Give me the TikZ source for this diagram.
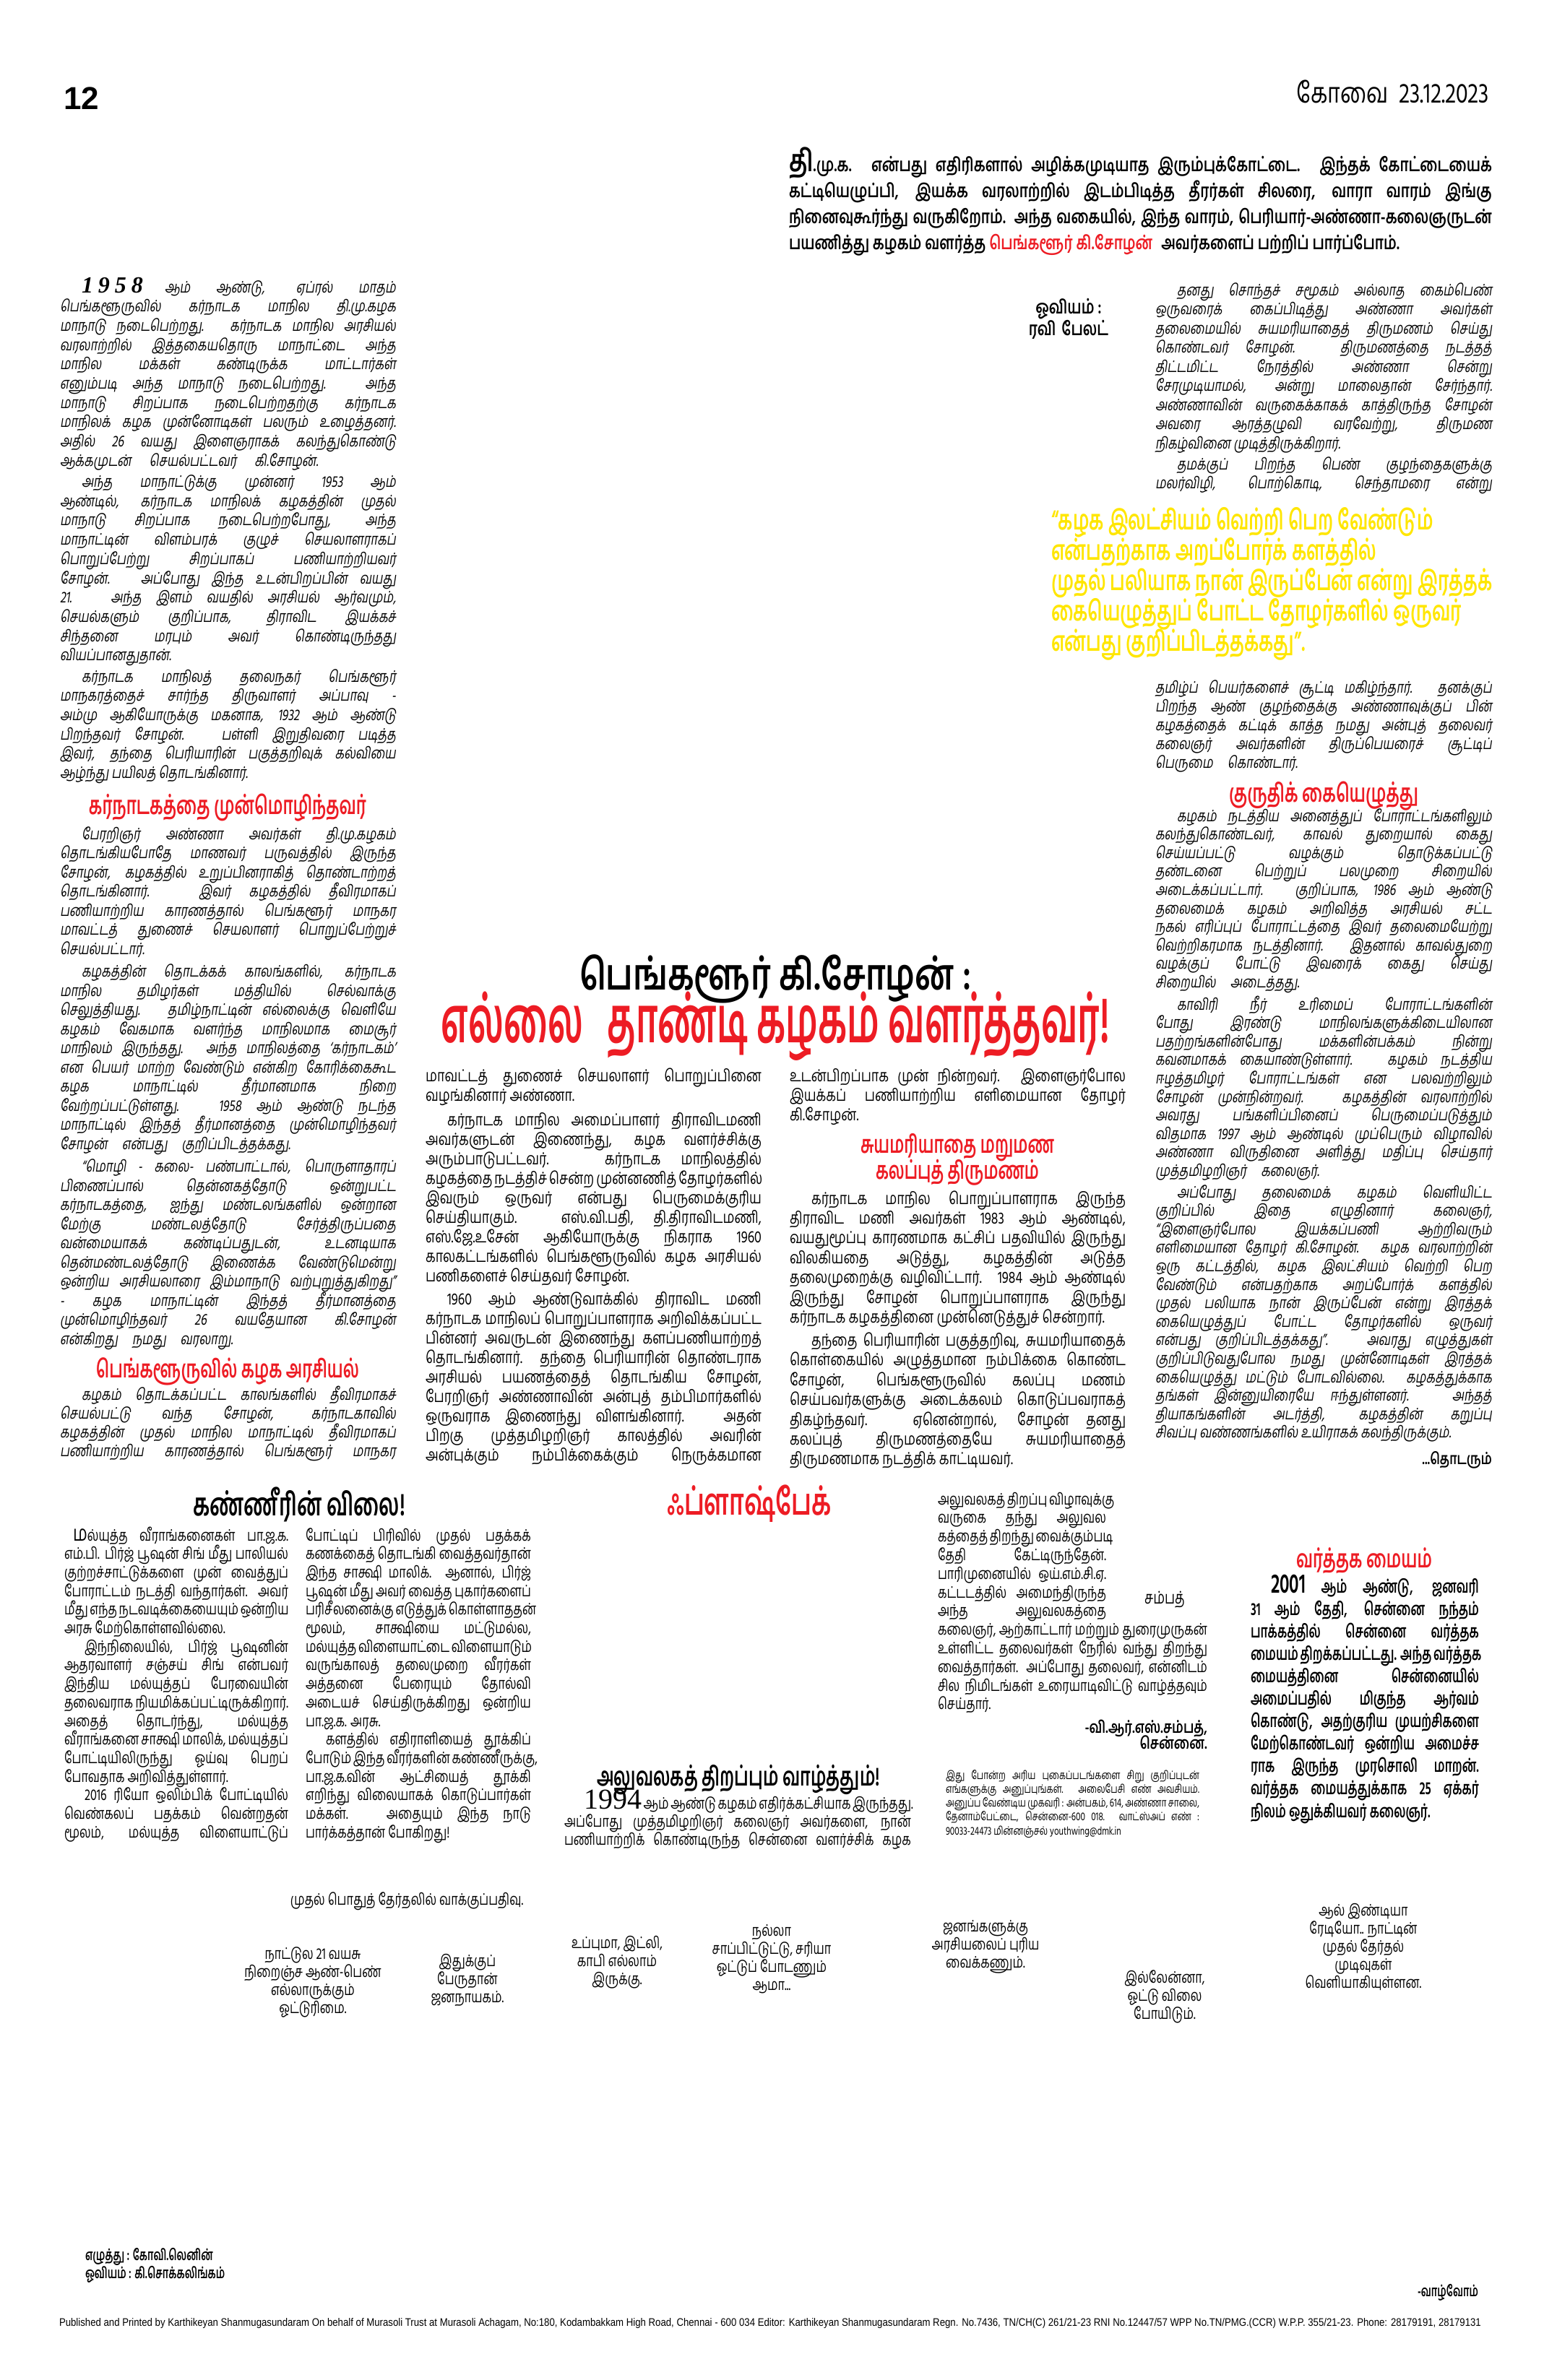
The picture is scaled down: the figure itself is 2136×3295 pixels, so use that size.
\documentclass[tikz,border=0pt]{standalone}
\usepackage{fontspec}
\usepackage{graphicx}
\definecolor{npred}{RGB}{237,28,36}
\definecolor{npyel}{RGB}{255,230,0}
\newfontfamily\TA[Script=Tamil]{Hind Madurai}
\newfontfamily\TAit[Script=Tamil,FakeSlant=0.15,FakeStretch=0.75]{Hind Madurai}
\newfontfamily\TAc[Script=Tamil,FakeStretch=0.78]{Hind Madurai}
\newfontfamily\TAn[Script=Tamil,FakeStretch=0.74]{Hind Madurai}
\newfontfamily\TAb[Script=Tamil,FakeStretch=0.75]{Hind Madurai}
\newfontfamily\TAh[Script=Tamil,FakeStretch=0.65]{Hind Madurai}
\newfontfamily\TAhh[Script=Tamil,FakeStretch=0.55]{Hind Madurai}
\newfontfamily\SerifD{Liberation Serif}
\newfontfamily\SansL{Liberation Sans}
\hbadness=10000 \hfuzz=\maxdimen \vbadness=10000 \vfuzz=\maxdimen
\newcommand\J[1]{\hbox to \hsize{#1}}
\newcommand\E[1]{\hbox to \hsize{#1\hfil}}
\newcommand\JW[2]{\hbox to #1{#2}}
\newcommand\IN{\hskip 30pt\relax}
\newcommand\cs[3]{#1\fontsize{#2}{#3}\selectfont\lineskiplimit=-1000pt\relax}
\tikzset{txt/.style={inner sep=0pt,outer sep=0pt}}
\begin{document}
\begin{tikzpicture}[x=1pt,y=-1pt]
\useasboundingbox (0,0) rectangle (2136,3295);
\fill[white] (0,0) rectangle (2136,3295);
% ---------- header
\node[txt,anchor=base west] (pg) at (88,151) {\SansL\bfseries\fontsize{44}{44}\selectfont 12};
\node[txt,anchor=base east] (date) at (2061,142) {\TAc\fontsize{39}{39}\selectfont கோவை\hskip 14pt 23.12.2023};
% ---------- intro
\node[txt,anchor=base west] (intro) at (1092,237) {\begin{minipage}[t]{973pt}\cs{\TAb\bfseries}{26}{36.2}%
\J{{\fontsize{42}{36}\selectfont தி}.மு.க. என்பது எதிரிகளால் அழிக்கமுடியாத இரும்புக்கோட்டை. இந்தக் கோட்டையைக்}
\J{கட்டியெழுப்பி, இயக்க வரலாற்றில் இடம்பிடித்த தீரர்கள் சிலரை, வாரா வாரம் இங்கு}
\J{நினைவுகூர்ந்து வருகிறோம். அந்த வகையில், இந்த வாரம், பெரியார்-அண்ணா-கலைஞருடன்}
\E{பயணித்து கழகம் வளர்த்த {\color{npred}பெங்களூர் கி.சோழன்}\hskip 12pt அவர்களைப் பற்றிப் பார்ப்போம்.}
\end{minipage}};
% ---------- left column
\node[txt,anchor=base west] (L1) at (83,405) {\begin{minipage}[t]{465pt}\cs{\TAit}{22}{26.7}%
\J{\IN{\SerifD\bfseries\itshape\fontsize{32}{26}\selectfont 1\kern7pt 9\kern7pt 5\kern7pt 8}\hskip 30pt ஆம் ஆண்டு, ஏப்ரல் மாதம்}
\J{பெங்களூருவில் கர்நாடக மாநில தி.மு.கழக}
\J{மாநாடு நடைபெற்றது. கர்நாடக மாநில அரசியல்}
\J{வரலாற்றில் இத்தகையதொரு மாநாட்டை அந்த}
\J{மாநில மக்கள் கண்டிருக்க மாட்டார்கள்}
\J{எனும்படி அந்த மாநாடு நடைபெற்றது. அந்த}
\J{மாநாடு சிறப்பாக நடைபெற்றதற்கு கர்நாடக}
\J{மாநிலக் கழக முன்னோடிகள் பலரும் உழைத்தனர்.}
\J{அதில் 26 வயது இளைஞராகக் கலந்துகொண்டு}
\E{ஆக்கமுடன்\hskip 25pt செயல்பட்டவர்\hskip 25pt கி.சோழன்.}
\vskip 2.5pt
\J{\IN அந்த மாநாட்டுக்கு முன்னர் 1953 ஆம்}
\J{ஆண்டில், கர்நாடக மாநிலக் கழகத்தின் முதல்}
\J{மாநாடு சிறப்பாக நடைபெற்றபோது, அந்த}
\J{மாநாட்டின் விளம்பரக் குழுச் செயலாளராகப்}
\J{பொறுப்பேற்று சிறப்பாகப் பணியாற்றியவர்}
\J{சோழன். அப்போது இந்த உடன்பிறப்பின் வயது}
\J{21. அந்த இளம் வயதில் அரசியல் ஆர்வமும்,}
\J{செயல்களும் குறிப்பாக, திராவிட இயக்கச்}
\J{சிந்தனை மரபும் அவர் கொண்டிருந்தது}
\E{வியப்பானதுதான்.}
\vskip 2.5pt
\J{\IN கர்நாடக மாநிலத் தலைநகர் பெங்களூர்}
\J{மாநகரத்தைச் சார்ந்த திருவாளர் அப்பாவு -}
\J{அம்மு ஆகியோருக்கு மகனாக, 1932 ஆம் ஆண்டு}
\J{பிறந்தவர் சோழன். பள்ளி இறுதிவரை படித்த}
\J{இவர், தந்தை பெரியாரின் பகுத்தறிவுக் கல்வியை}
\E{ஆழ்ந்து பயிலத் தொடங்கினார்.}
\end{minipage}};
\node[txt,anchor=base,text=npred] (h1) at (315,1127) {\resizebox{384pt}{!}{\TAh\bfseries\fontsize{34}{34}\selectfont கர்நாடகத்தை முன்மொழிந்தவர்}};
\node[txt,anchor=base west] (L2) at (83,1162) {\begin{minipage}[t]{465pt}\cs{\TAit}{22}{26.5}%
\J{\IN பேரறிஞர் அண்ணா அவர்கள் தி.மு.கழகம்}
\J{தொடங்கியபோதே மாணவர் பருவத்தில் இருந்த}
\J{சோழன், கழகத்தில் உறுப்பினராகித் தொண்டாற்றத்}
\J{தொடங்கினார். இவர் கழகத்தில் தீவிரமாகப்}
\J{பணியாற்றிய காரணத்தால் பெங்களூர் மாநகர}
\J{மாவட்டத் துணைச் செயலாளர் பொறுப்பேற்றுச்}
\E{செயல்பட்டார்.}
\vskip 5pt
\J{\IN கழகத்தின் தொடக்கக் காலங்களில், கர்நாடக}
\J{மாநில தமிழர்கள் மத்தியில் செல்வாக்கு}
\J{செலுத்தியது. தமிழ்நாட்டின் எல்லைக்கு வெளியே}
\J{கழகம் வேகமாக வளர்ந்த மாநிலமாக மைசூர்}
\J{மாநிலம் இருந்தது. அந்த மாநிலத்தை ‘கர்நாடகம்’}
\J{என பெயர் மாற்ற வேண்டும் என்கிற கோரிக்கைகூட}
\J{கழக மாநாட்டில் தீர்மானமாக நிறை}
\J{வேற்றப்பட்டுள்ளது. 1958 ஆம் ஆண்டு நடந்த}
\J{மாநாட்டில் இந்தத் தீர்மானத்தை முன்மொழிந்தவர்}
\E{சோழன்\hskip 20pt என்பது\hskip 20pt குறிப்பிடத்தக்கது.}
\vskip 5pt
\J{\IN “மொழி - கலை- பண்பாட்டால், பொருளாதாரப்}
\J{பிணைப்பால் தென்னகத்தோடு ஒன்றுபட்ட}
\J{கர்நாடகத்தை, ஐந்து மண்டலங்களில் ஒன்றான}
\J{மேற்கு மண்டலத்தோடு சேர்த்திருப்பதை}
\J{வன்மையாகக் கண்டிப்பதுடன், உடனடியாக}
\J{தென்மண்டலத்தோடு இணைக்க வேண்டுமென்று}
\J{ஒன்றிய அரசியலாரை இம்மாநாடு வற்புறுத்துகிறது”}
\J{- கழக மாநாட்டின் இந்தத் தீர்மானத்தை}
\J{முன்மொழிந்தவர் 26 வயதேயான கி.சோழன்}
\E{என்கிறது\hskip 20pt நமது\hskip 20pt வரலாறு.}
\end{minipage}};
\node[txt,anchor=base,text=npred] (h2) at (315,1907) {\resizebox{364pt}{!}{\TAh\bfseries\fontsize{34}{34}\selectfont பெங்களூருவில் கழக அரசியல்}};
\node[txt,anchor=base west] (L3) at (83,1938) {\begin{minipage}[t]{465pt}\cs{\TAit}{22}{26}%
\J{\IN கழகம் தொடக்கப்பட்ட காலங்களில் தீவிரமாகச்}
\J{செயல்பட்டு வந்த சோழன், கர்நாடகாவில்}
\J{கழகத்தின் முதல் மாநில மாநாட்டில் தீவிரமாகப்}
\J{பணியாற்றிய காரணத்தால் பெங்களூர் மாநகர}
\end{minipage}};
% ---------- picture credit
\node[txt,anchor=base] (ov1) at (1479,434) {\TAb\bfseries\fontsize{26}{26}\selectfont ஓவியம் :};
\node[txt,anchor=base] (ov2) at (1479,464) {\TAb\bfseries\fontsize{26}{26}\selectfont ரவி\hskip 8pt பேலட்};
% ---------- right column upper
\node[txt,anchor=base west] (R1) at (1599,409) {\begin{minipage}[t]{466pt}\cs{\TAit}{22}{26.5}%
\J{\IN தனது சொந்தச் சமூகம் அல்லாத கைம்பெண்}
\J{ஒருவரைக் கைப்பிடித்து அண்ணா அவர்கள்}
\J{தலைமையில் சுயமரியாதைத் திருமணம் செய்து}
\J{கொண்டவர் சோழன். திருமணத்தை நடத்தத்}
\J{திட்டமிட்ட நேரத்தில் அண்ணா சென்று}
\J{சேரமுடியாமல், அன்று மாலைதான் சேர்ந்தார்.}
\J{அண்ணாவின் வருகைக்காகக் காத்திருந்த சோழன்}
\J{அவரை ஆரத்தழுவி வரவேற்று, திருமண}
\E{நிகழ்வினை முடித்திருக்கிறார்.}
\vskip 2.5pt
\J{\IN தமக்குப் பிறந்த பெண் குழந்தைகளுக்கு}
\J{மலர்விழி, பொற்கொடி, செந்தாமரை என்று}
\end{minipage}};
\node[txt,anchor=base west,text=npyel] (quote) at (1455,733) {\begin{minipage}[t]{640pt}\cs{\TAh\bfseries}{38}{42}%
\E{“கழக இலட்சியம் வெற்றி பெற வேண்டும்}
\E{என்பதற்காக அறப்போர்க் களத்தில்}
\E{முதல் பலியாக நான் இருப்பேன் என்று இரத்தக்}
\E{கையெழுத்துப் போட்ட தோழர்களில் ஒருவர்}
\E{என்பது குறிப்பிடத்தக்கது”.}
\end{minipage}};
\node[txt,anchor=base west] (R2) at (1599,959) {\begin{minipage}[t]{466pt}\cs{\TAit}{22}{26}%
\J{தமிழ்ப் பெயர்களைச் சூட்டி மகிழ்ந்தார். தனக்குப்}
\J{பிறந்த ஆண் குழந்தைக்கு அண்ணாவுக்குப் பின்}
\J{கழகத்தைக் கட்டிக் காத்த நமது அன்புத் தலைவர்}
\J{கலைஞர் அவர்களின் திருப்பெயரைச் சூட்டிப்}
\E{பெருமை\hskip 20pt கொண்டார்.}
\end{minipage}};
\node[txt,anchor=base,text=npred] (h3) at (1832,1110) {\resizebox{262pt}{!}{\TAh\bfseries\fontsize{34}{34}\selectfont குருதிக் கையெழுத்து}};
\node[txt,anchor=base west] (R3) at (1599,1137) {\begin{minipage}[t]{466pt}\cs{\TAit}{22}{25.6}%
\J{\IN கழகம் நடத்திய அனைத்துப் போராட்டங்களிலும்}
\J{கலந்துகொண்டவர், காவல் துறையால் கைது}
\J{செய்யப்பட்டு வழக்கும் தொடுக்கப்பட்டு}
\J{தண்டனை பெற்றுப் பலமுறை சிறையில்}
\J{அடைக்கப்பட்டார். குறிப்பாக, 1986 ஆம் ஆண்டு}
\J{தலைமைக் கழகம் அறிவித்த அரசியல் சட்ட}
\J{நகல் எரிப்புப் போராட்டத்தை இவர் தலைமையேற்று}
\J{வெற்றிகரமாக நடத்தினார். இதனால் காவல்துறை}
\J{வழக்குப் போட்டு இவரைக் கைது செய்து}
\E{சிறையில்\hskip 20pt அடைத்தது.}
\vskip 5pt
\J{\IN காவிரி நீர் உரிமைப் போராட்டங்களின்}
\J{போது இரண்டு மாநிலங்களுக்கிடையிலான}
\J{பதற்றங்களின்போது மக்களின்பக்கம் நின்று}
\J{கவனமாகக் கையாண்டுள்ளார். கழகம் நடத்திய}
\J{ஈழத்தமிழர் போராட்டங்கள் என பலவற்றிலும்}
\J{சோழன் முன்நின்றவர். கழகத்தின் வரலாற்றில்}
\J{அவரது பங்களிப்பினைப் பெருமைப்படுத்தும்}
\J{விதமாக 1997 ஆம் ஆண்டில் முப்பெரும் விழாவில்}
\J{அண்ணா விருதினை அளித்து மதிப்பு செய்தார்}
\E{முத்தமிழறிஞர்\hskip 20pt கலைஞர்.}
\vskip 4pt
\J{\IN அப்போது தலைமைக் கழகம் வெளியிட்ட}
\J{குறிப்பில் இதை எழுதினார் கலைஞர்,}
\J{“இளைஞர்போல இயக்கப்பணி ஆற்றிவரும்}
\J{எளிமையான தோழர் கி.சோழன். கழக வரலாற்றின்}
\J{ஒரு கட்டத்தில், கழக இலட்சியம் வெற்றி பெற}
\J{வேண்டும் என்பதற்காக அறப்போர்க் களத்தில்}
\J{முதல் பலியாக நான் இருப்பேன் என்று இரத்தக்}
\J{கையெழுத்துப் போட்ட தோழர்களில் ஒருவர்}
\J{என்பது குறிப்பிடத்தக்கது”. அவரது எழுத்துகள்}
\J{குறிப்பிடுவதுபோல நமது முன்னோடிகள் இரத்தக்}
\J{கையெழுத்து மட்டும் போடவில்லை. கழகத்துக்காக}
\J{தங்கள் இன்னுயிரையே ஈந்துள்ளனர். அந்தத்}
\J{தியாகங்களின் அடர்த்தி, கழகத்தின் கறுப்பு}
\E{சிவப்பு வண்ணங்களில் உயிராகக் கலந்திருக்கும்.}
\end{minipage}};
\node[txt,anchor=base east] (tod) at (2065,2027) {\TAb\bfseries\fontsize{22}{22}\selectfont ...தொடரும்};
% ---------- middle headline
\node[txt,anchor=base] (hl1) at (1073,1370) {\resizebox{542pt}{!}{\TAb\bfseries\fontsize{52}{52}\selectfont பெங்களூர் கி.சோழன் :}};
\node[txt,anchor=base,text=npred] (hl2) at (1073,1443) {\resizebox{925pt}{!}{\TAhh\bfseries\fontsize{80}{80}\selectfont எல்லை\hskip 30pt தாண்டி கழகம் வளர்த்தவர்!}};
% ---------- middle columns
\node[txt,anchor=base west] (MA) at (589,1497) {\begin{minipage}[t]{465pt}\cs{\TAc}{23}{27}%
\J{மாவட்டத் துணைச் செயலாளர் பொறுப்பினை}
\E{வழங்கினார் அண்ணா.}
\vskip 7pt
\J{\IN கர்நாடக மாநில அமைப்பாளர் திராவிடமணி}
\J{அவர்களுடன் இணைந்து, கழக வளர்ச்சிக்கு}
\J{அரும்பாடுபட்டவர். கர்நாடக மாநிலத்தில்}
\J{கழகத்தை நடத்திச் சென்ற முன்னணித் தோழர்களில்}
\J{இவரும் ஒருவர் என்பது பெருமைக்குரிய}
\J{செய்தியாகும். எஸ்.வி.பதி, தி.திராவிடமணி,}
\J{எஸ்.ஜே.உசேன் ஆகியோருக்கு நிகராக 1960}
\J{காலகட்டங்களில் பெங்களூருவில் கழக அரசியல்}
\E{பணிகளைச் செய்தவர் சோழன்.}
\vskip 5pt
\J{\IN 1960 ஆம் ஆண்டுவாக்கில் திராவிட மணி}
\J{கர்நாடக மாநிலப் பொறுப்பாளராக அறிவிக்கப்பட்ட}
\J{பின்னர் அவருடன் இணைந்து களப்பணியாற்றத்}
\J{தொடங்கினார். தந்தை பெரியாரின் தொண்டராக}
\J{அரசியல் பயணத்தைத் தொடங்கிய சோழன்,}
\J{பேரறிஞர் அண்ணாவின் அன்புத் தம்பிமார்களில்}
\J{ஒருவராக இணைந்து விளங்கினார். அதன்}
\J{பிறகு முத்தமிழறிஞர் காலத்தில் அவரின்}
\J{அன்புக்கும் நம்பிக்கைக்கும் நெருக்கமான}
\end{minipage}};
\node[txt,anchor=base west] (MB1) at (1093,1497) {\begin{minipage}[t]{465pt}\cs{\TAc}{23}{27}%
\J{உடன்பிறப்பாக முன் நின்றவர். இளைஞர்போல}
\J{இயக்கப் பணியாற்றிய எளிமையான தோழர்}
\E{கி.சோழன்.}
\end{minipage}};
\node[txt,anchor=base,text=npred] (hm1) at (1325,1596) {\resizebox{268pt}{!}{\TAh\bfseries\fontsize{34}{34}\selectfont சுயமரியாதை மறுமண}};
\node[txt,anchor=base,text=npred] (hm2) at (1325,1632) {\resizebox{226pt}{!}{\TAh\bfseries\fontsize{34}{34}\selectfont கலப்புத் திருமணம்}};
\node[txt,anchor=base west] (MB2) at (1093,1667) {\begin{minipage}[t]{465pt}\cs{\TAc}{23}{27.4}%
\J{\IN கர்நாடக மாநில பொறுப்பாளராக இருந்த}
\J{திராவிட மணி அவர்கள் 1983 ஆம் ஆண்டில்,}
\J{வயதுமூப்பு காரணமாக கட்சிப் பதவியில் இருந்து}
\J{விலகியதை அடுத்து, கழகத்தின் அடுத்த}
\J{தலைமுறைக்கு வழிவிட்டார். 1984 ஆம் ஆண்டில்}
\J{இருந்து சோழன் பொறுப்பாளராக இருந்து}
\E{கர்நாடக கழகத்தினை முன்னெடுத்துச் சென்றார்.}
\vskip 4.6pt
\J{\IN தந்தை பெரியாரின் பகுத்தறிவு, சுயமரியாதைக்}
\J{கொள்கையில் அழுத்தமான நம்பிக்கை கொண்ட}
\J{சோழன், பெங்களூருவில் கலப்பு மணம்}
\J{செய்பவர்களுக்கு அடைக்கலம் கொடுப்பவராகத்}
\J{திகழ்ந்தவர். ஏனென்றால், சோழன் தனது}
\J{கலப்புத் திருமணத்தையே சுயமரியாதைத்}
\E{திருமணமாக நடத்திக் காட்டியவர்.}
\end{minipage}};
% ---------- bottom section
\node[txt,anchor=base] (kv) at (414,2098) {\resizebox{294pt}{!}{\TAh\bfseries\fontsize{40}{40}\selectfont கண்ணீரின் விலை!}};
\node[txt,anchor=base,text=npred] (fb) at (1037,2097) {\resizebox{228pt}{!}{\TAh\bfseries\fontsize{44}{44}\selectfont ஃப்ளாஷ்பேக்}};
\node[txt,anchor=base west] (B1) at (89,2133) {\begin{minipage}[t]{310pt}\cs{\TAn}{22}{25.7}%
\J{\hskip 12pt{\fontsize{30}{25}\selectfont ம}ல்யுத்த வீராங்கனைகள் பா.ஜ.க.}
\J{எம்.பி. பிர்ஜ் பூஷன் சிங் மீது பாலியல்}
\J{குற்றச்சாட்டுக்களை முன் வைத்துப்}
\J{போராட்டம் நடத்தி வந்தார்கள். அவர்}
\J{மீது எந்த நடவடிக்கையையும் ஒன்றிய}
\E{அரசு மேற்கொள்ளவில்லை.}
\J{\hskip 28pt இந்நிலையில், பிர்ஜ் பூஷனின்}
\J{ஆதரவாளர் சஞ்சய் சிங் என்பவர்}
\J{இந்திய மல்யுத்தப் பேரவையின்}
\J{தலைவராக நியமிக்கப்பட்டிருக்கிறார்.}
\J{அதைத் தொடர்ந்து, மல்யுத்த}
\J{வீராங்கனை சாக்ஷி மாலிக், மல்யுத்தப்}
\J{போட்டியிலிருந்து ஓய்வு பெறப்}
\E{போவதாக அறிவித்துள்ளார்.}
\J{\hskip 28pt 2016 ரியோ ஒலிம்பிக் போட்டியில்}
\J{வெண்கலப் பதக்கம் வென்றதன்}
\J{மூலம், மல்யுத்த விளையாட்டுப்}
\end{minipage}};
\node[txt,anchor=base west] (B2) at (423,2133) {\begin{minipage}[t]{312pt}\cs{\TAn}{22}{25.7}%
\J{போட்டிப் பிரிவில் முதல் பதக்கக்}
\J{கணக்கைத் தொடங்கி வைத்தவர்தான்}
\J{இந்த சாக்ஷி மாலிக். ஆனால், பிர்ஜ்}
\J{பூஷன் மீது அவர் வைத்த புகார்களைப்}
\J{பரிசீலனைக்கு எடுத்துக் கொள்ளாததன்}
\J{மூலம், சாக்ஷியை மட்டுமல்ல,}
\J{மல்யுத்த விளையாட்டை விளையாடும்}
\J{வருங்காலத் தலைமுறை வீரர்கள்}
\J{அத்தனை பேரையும் தோல்வி}
\J{அடையச் செய்திருக்கிறது ஒன்றிய}
\E{பா.ஜ.க. அரசு.}
\J{\hskip 28pt களத்தில் எதிராளியைத் தூக்கிப்}
\J{போடும் இந்த வீரர்களின் கண்ணீருக்கு,}
\J{பா.ஜ.க.வின் ஆட்சியைத் தூக்கி}
\J{எறிந்து விலையாகக் கொடுப்பார்கள்}
\J{மக்கள். அதையும் இந்த நாடு}
\E{பார்க்கத்தான் போகிறது!}
\end{minipage}};
\node[txt,anchor=base] (al) at (1022,2472) {\resizebox{392pt}{!}{\TAh\bfseries\fontsize{40}{40}\selectfont அலுவலகத் திறப்பும் வாழ்த்தும்!}};
\node[txt,anchor=base west] (B3) at (781,2504) {\begin{minipage}[t]{480pt}\cs{\TAn}{22}{25}%
\J{\hskip 27pt{\SerifD\fontsize{40}{25}\selectfont 1994} ஆம் ஆண்டு கழகம் எதிர்க்கட்சியாக இருந்தது.}
\J{அப்போது முத்தமிழறிஞர் கலைஞர் அவர்களை, நான்}
\J{பணியாற்றிக் கொண்டிருந்த சென்னை வளர்ச்சிக் கழக}
\end{minipage}};
\node[txt,anchor=base west] (B4) at (1298,2083) {\begin{minipage}[t]{373pt}\cs{\TAn}{22}{25.8}%
\JW{233pt}{அலுவலகத் திறப்பு விழாவுக்கு}
\JW{233pt}{வருகை தந்து அலுவல}
\JW{233pt}{கத்தைத் திறந்து வைக்கும்படி}
\JW{233pt}{தேதி கேட்டிருந்தேன்.}
\JW{233pt}{பாரிமுனையில் ஒய்.எம்.சி.ஏ.}
\JW{233pt}{கட்டடத்தில் அமைந்திருந்த}
\JW{233pt}{அந்த அலுவலகத்தை}
\J{கலைஞர், ஆற்காட்டார் மற்றும் துரைமுருகன்}
\J{உள்ளிட்ட தலைவர்கள் நேரில் வந்து திறந்து}
\J{வைத்தார்கள். அப்போது தலைவர், என்னிடம்}
\J{சில நிமிடங்கள் உரையாடிவிட்டு வாழ்த்தவும்}
\E{செய்தார்.}
\end{minipage}};
\node[txt,anchor=base] (samp) at (1612,2220) {\TAn\fontsize{24}{24}\selectfont சம்பத்};
\node[txt,anchor=base east] (sig1) at (1671,2399) {\TAb\bfseries\fontsize{23}{23}\selectfont -வி.ஆர்.எஸ்.சம்பத்,};
\node[txt,anchor=base east] (sig2) at (1671,2421) {\TAb\bfseries\fontsize{23}{23}\selectfont சென்னை.};
\node[txt,anchor=base west] (B5) at (1309,2463) {\begin{minipage}[t]{351pt}\cs{\TAn}{16}{19.3}%
\J{இது போன்ற அரிய புகைப்படங்களை சிறு குறிப்புடன்}
\J{எங்களுக்கு அனுப்புங்கள். அலைபேசி எண் அவசியம்.}
\J{அனுப்ப வேண்டிய முகவரி : அன்பகம், 614, அண்ணா சாலை,}
\J{தேனாம்பேட்டை, சென்னை-600 018. வாட்ஸ்அப் எண் :}
\E{90033-24473 மின்னஞ்சல் youthwing@dmk.in}
\end{minipage}};
\node[txt,anchor=base,text=npred] (vm) at (1888,2170) {\resizebox{188pt}{!}{\TAh\bfseries\fontsize{40}{40}\selectfont வர்த்தக மையம்}};
\node[txt,anchor=base west] (B6) at (1731,2205) {\begin{minipage}[t]{316pt}\cs{\TAh\bfseries}{25}{31.1}%
\J{\hskip 28pt{\fontsize{38}{31}\selectfont 2001} ஆம் ஆண்டு, ஜனவரி}
\J{31 ஆம் தேதி, சென்னை நந்தம்}
\J{பாக்கத்தில் சென்னை வர்த்தக}
\J{மையம் திறக்கப்பட்டது. அந்த வர்த்தக}
\J{மையத்தினை சென்னையில்}
\J{அமைப்பதில் மிகுந்த ஆர்வம்}
\J{கொண்டு, அதற்குரிய முயற்சிகளை}
\J{மேற்கொண்டவர் ஒன்றிய அமைச்ச}
\J{ராக இருந்த முரசொலி மாறன்.}
\J{வர்த்தக மையத்துக்காக 25 ஏக்கர்}
\E{நிலம் ஒதுக்கியவர் கலைஞர்.}
\end{minipage}};
% ---------- comic texts
\newcommand\ct[4]{\node[txt,anchor=base] (#1) at (#2) {\begin{minipage}[t]{360pt}\centering\cs{\TAn}{22}{25}#3\end{minipage}};}
\ct{c0}{563,2637}{முதல் பொதுத் தேர்தலில் வாக்குப்பதிவு.}{}
\ct{c1}{433,2712}{நாட்டுல 21 வயசு\\நிறைஞ்ச ஆண்-பெண்\\எல்லாருக்கும்\\ஓட்டுரிமை.}{}
\ct{c2}{647,2722}{இதுக்குப்\\பேருதான்\\ஜனநாயகம்.}{}
\ct{c3}{854,2697}{உப்புமா, இட்லி,\\காபி எல்லாம்\\இருக்கு.}{}
\ct{c4}{1068,2680}{நல்லா\\சாப்பிட்டுட்டு, சரியா\\ஓட்டுப் போடணும்\\ஆமா...}{}
\ct{c5}{1364,2674}{ஜனங்களுக்கு\\அரசியலைப் புரிய\\வைக்கணும்.}{}
\ct{c6}{1612,2745}{இல்லேன்னா,\\ஓட்டு விலை\\போயிடும்.}{}
\ct{c7}{1887,2652}{ஆல் இண்டியா\\ரேடியோ.. நாட்டின்\\முதல் தேர்தல்\\முடிவுகள்\\வெளியாகியுள்ளன.}{}
% ---------- credits and footer
\node[txt,anchor=base west] (cr1) at (118,3129) {\TAh\bfseries\fontsize{21}{21}\selectfont எழுத்து : கோவி.லெனின்};
\node[txt,anchor=base west] (cr2) at (118,3154) {\TAh\bfseries\fontsize{21}{21}\selectfont ஓவியம் : கி.சொக்கலிங்கம்};
\node[txt,anchor=base east] (vz) at (2046,3179) {\TAh\bfseries\fontsize{21}{21}\selectfont -வாழ்வோம்};
\node[txt,anchor=base west] (foot) at (82,3220) {\resizebox{1968pt}{11pt}{\SansL\fontsize{14}{14}\selectfont Published and Printed by Karthikeyan Shanmugasundaram On behalf of Murasoli Trust at Murasoli Achagam, No:180, Kodambakkam High Road, Chennai - 600 034 Editor: Karthikeyan Shanmugasundaram Regn. No.7436, TN/CH(C) 261/21-23 RNI No.12447/57 WPP No.TN/PMG.(CCR) W.P.P. 355/21-23. Phone: 28179191, 28179131}};
\end{tikzpicture}
\end{document}
